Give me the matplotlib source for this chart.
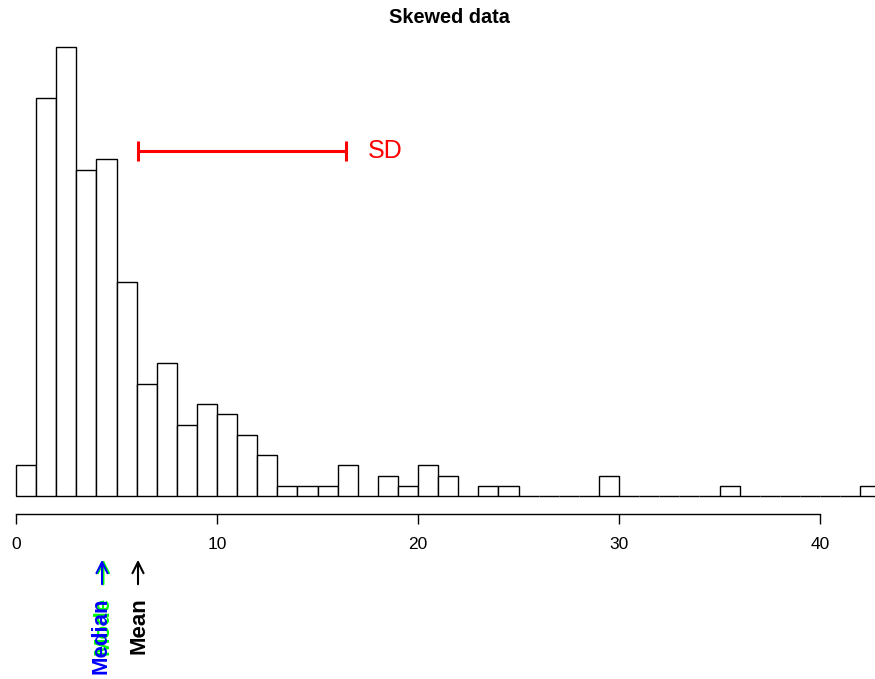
import matplotlib
matplotlib.use("Agg")
import matplotlib.pyplot as plt
import numpy as np

# histogram counts, one bin per unit starting at 0
bin_edges = list(range(0, 44))
counts = [3, 39, 44, 32, 33, 21, 11, 13, 7, 9, 8, 6, 4, 1, 1, 1, 3, 0, 2, 1,
          3, 2, 0, 1, 1, 0, 0, 0, 0, 2, 0, 0, 0, 0, 0, 1, 0, 0, 0, 0,
          0, 0, 1]
x_ticks = [0, 10, 20, 30, 40]
mean_val = 6.05
median_val = 4.28
sd_val = 10.37
title = "Skewed data"

plt.rcParams['font.family'] = ['Liberation Sans', 'DejaVu Sans']

W, H = 875, 679
fig = plt.figure(figsize=(W / 100, H / 100), dpi=100)
ax = fig.add_axes([0, 0, 1, 1])

# pixel <-> data helpers (x: 20.1 px per unit, y: 10.2 px per count)
px_x = 20.1
px_y = 10.2
base_px = 496
ax.set_xlim(-16 / px_x, (W - 16) / px_x)
ax.set_ylim(-(H - base_px) / px_y, base_px / px_y)


def ypx(p):
    return (base_px - p) / px_y


ax.bar(bin_edges[:-1], counts, width=1, align='edge', color='white',
       edgecolor='black', linewidth=1.0)

# x axis like R's axis()
for s in ['top', 'left', 'right']:
    ax.spines[s].set_visible(False)
ax.spines['bottom'].set_position(('data', ypx(514)))
ax.spines['bottom'].set_bounds(x_ticks[0], x_ticks[-1])
ax.spines['bottom'].set_linewidth(1.0)
ax.set_xticks(x_ticks)
ax.set_xticklabels([str(t) for t in x_ticks])
ax.tick_params(axis='x', direction='out', length=7.5, width=1.0, pad=9,
               labelsize=12.5)
ax.set_yticks([])

fig.text(449 / W, 1 - 17.5 / H, title, ha='center', va='center',
         fontsize=14.3, fontweight='bold')

# SD bar
y_sd = ypx(151)
ax.errorbar(mean_val + sd_val / 2, y_sd, xerr=sd_val / 2, color='#ff0000',
            linewidth=2.2, capsize=7.5, capthick=2.2)
ax.text(mean_val + sd_val + 1.1, y_sd, "SD", color='#ff0000', fontsize=18,
        ha='left', va='center')

# arrows and labels below the axis
arr = dict(arrowstyle='->', linewidth=1.5, mutation_scale=20)
ax.annotate("", xy=(median_val + 0.07, ypx(557)), xytext=(median_val + 0.07, ypx(587)),
            arrowprops=dict(arr, color='#00ff00'), annotation_clip=False)
ax.annotate("", xy=(median_val, ypx(557)), xytext=(median_val, ypx(587)),
            arrowprops=dict(arr, color='#0000ff'), annotation_clip=False)
ax.annotate("", xy=(mean_val + 0.02, ypx(557)), xytext=(mean_val + 0.02, ypx(587)),
            arrowprops=dict(arr, color='black'), annotation_clip=False)

ax.text(median_val + 0.06, ypx(597), "Mode", color='#00ff00', rotation=90,
        ha='center', va='top', fontsize=16, fontweight='bold')
ax.text(median_val - 0.04, ypx(597), "Median", color='#0000ff', rotation=90,
        ha='center', va='top', fontsize=16, fontweight='bold')
ax.text(mean_val + 0.05, ypx(597), "Mean", color='black', rotation=90,
        ha='center', va='top', fontsize=16, fontweight='bold')

fig.savefig("out.png", dpi=100)
